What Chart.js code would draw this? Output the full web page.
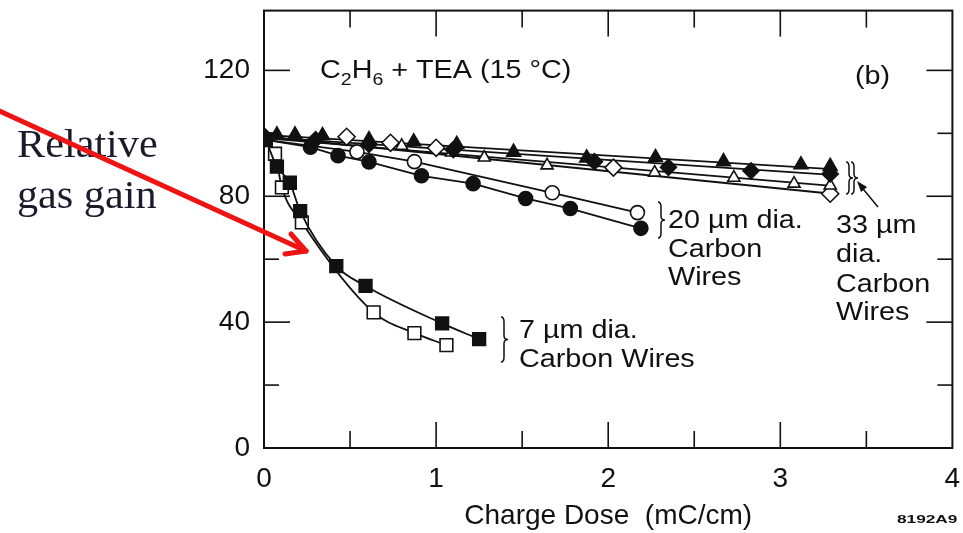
<!DOCTYPE html>
<html><head><meta charset="utf-8">
<script src="https://cdn.jsdelivr.net/npm/chart.js@4/dist/chart.umd.min.js"></script>
<style>html,body{margin:0;padding:0;background:#fff;}#wrap{width:963px;height:533px;}</style>
</head><body><div id="wrap"><canvas id="c" width="963" height="533"></canvas></div>
<script>
// ---- axis ticks ----
const doseTicks = [0, 1, 2, 3, 4];
const doseMinorTicks = [0.5, 1, 1.5, 2, 2.5, 3, 3.5];
const gainTicks = [0, 40, 80, 120];
const gainMinorTicks = [20, 40, 60, 80, 100, 120];

// ---- 7 um carbon wires ----
const sq7FilledX = [0.01, 0.075, 0.15, 0.21, 0.42, 0.59, 1.035, 1.25];
const sq7FilledY = [98, 89.4, 84.3, 75.3, 57.8, 51.5, 39.6, 34.6];
const sq7OpenX = [0.01, 0.064, 0.104, 0.22, 0.637, 0.874, 1.06];
const sq7OpenY = [98, 93.5, 82.8, 71.7, 43.1, 36.5, 32.7];

// ---- 20 um carbon wires ----
const circ20FilledX = [0, 0.27, 0.43, 0.61, 0.915, 1.215, 1.52, 1.78, 2.19];
const circ20FilledY = [98, 95.6, 92.9, 90.9, 86.5, 84, 79.3, 76.1, 69.8];
const circ20OpenX = [0, 0.54, 0.874, 1.675, 2.17];
const circ20OpenY = [98, 94.1, 91, 81.1, 74.8];

// ---- 33 um carbon wires ----
const tri33FilledX = [0, 0.075, 0.18, 0.34, 0.61, 0.87, 1.12, 1.45, 1.875, 2.275, 2.67, 3.12, 3.29];
const tri33FilledY = [99, 99.5, 99.5, 99.3, 98, 97.3, 96.5, 94, 92.2, 92.3, 91, 90, 89.5];
const dia33FilledX = [0, 0.3, 0.61, 1.1, 1.92, 2.35, 2.83, 3.29];
const dia33FilledY = [99, 98, 96.5, 94.8, 91, 89.2, 88.1, 87.1];
const tri33OpenX = [0, 0.8, 1.09, 1.28, 1.645, 2.27, 2.73, 3.08, 3.29];
const tri33OpenY = [99, 96, 93.9, 92.3, 89.8, 87.5, 85.9, 84, 83.4];
const dia33OpenX = [0, 0.48, 0.735, 1.0, 2.03, 3.29];
const dia33OpenY = [99, 98.9, 97, 95.4, 89.1, 80.8];

// ---- 33 um fitted lines ----
const fit33X = [0, 3.3];
const fitTriFilledY = [99.5, 88.6];
const fitDiaFilledY = [98.8, 86.8];
const fitTriOpenY = [98.5, 83.3];
const fitDiaOpenY = [99, 80.8];

const pts = (xs, ys) => xs.map((x, i) => ({x, y: ys[i]}));
const INK = '#111';

function markers(xs, ys, style, filled, r, withLine, tension) {
  return {
    data: pts(xs, ys),
    showLine: withLine,
    borderColor: INK,
    borderWidth: 1.8,
    tension: tension || 0,
    cubicInterpolationMode: tension ? 'monotone' : 'default',
    pointStyle: style,
    pointRadius: r,
    pointBackgroundColor: filled ? INK : '#fff',
    pointBorderColor: INK,
    pointBorderWidth: 1.6,
    fill: false
  };
}
function fitLine(xs, ys) {
  return {data: pts(xs, ys), showLine: true, borderColor: INK, borderWidth: 1.8, pointRadius: 0, tension: 0, fill: false};
}

const datasets = [
  markers(sq7FilledX, sq7FilledY, 'rect', true, 9, true, 0.4),
  markers(sq7OpenX, sq7OpenY, 'rect', false, 9, true, 0.4),
  markers(circ20FilledX, circ20FilledY, 'circle', true, 7, true, 0),
  markers(circ20OpenX, circ20OpenY, 'circle', false, 7, true, 0),
  markers(tri33FilledX, tri33FilledY, 'triangle', true, 8, false, 0),
  markers(dia33FilledX, dia33FilledY, 'rectRot', true, 8, false, 0),
  markers(tri33OpenX, tri33OpenY, 'triangle', false, 7, false, 0),
  markers(dia33OpenX, dia33OpenY, 'rectRot', false, 8.5, false, 0),
  fitLine(fit33X, fitTriFilledY),
  fitLine(fit33X, fitDiaFilledY),
  fitLine(fit33X, fitTriOpenY),
  fitLine(fit33X, fitDiaOpenY)
];

const SANS = '"Liberation Sans", Arial, Helvetica, sans-serif';
function txt(ctx, s, x, y, size, sx, opts) {
  opts = opts || {};
  ctx.save();
  ctx.translate(x, y);
  ctx.scale(sx || 1, 1);
  ctx.font = (opts.weight || 'normal') + ' ' + size + 'px ' + (opts.family || SANS);
  ctx.fillStyle = opts.color || INK;
  ctx.textAlign = 'left';
  ctx.textBaseline = 'alphabetic';
  ctx.fillText(s, 0, 0);
  const w = ctx.measureText(s).width * (sx || 1);
  ctx.restore();
  return w;
}
function brace(ctx, x, y0, y1, dir) {
  const m = (y0 + y1) / 2, d = dir || 1;
  ctx.beginPath();
  ctx.moveTo(x - 3 * d, y0);
  ctx.quadraticCurveTo(x, y0, x, y0 + 5);
  ctx.lineTo(x, m - 4);
  ctx.quadraticCurveTo(x, m, x + 4 * d, m);
  ctx.quadraticCurveTo(x, m, x, m + 4);
  ctx.lineTo(x, y1 - 5);
  ctx.quadraticCurveTo(x, y1, x - 3 * d, y1);
  ctx.stroke();
}

const frame = {
  id: 'frame',
  afterDraw(chart) {
    const {ctx, chartArea: a, scales: {x, y}} = chart;
    ctx.save();
    ctx.strokeStyle = INK;
    ctx.lineWidth = 2;
    ctx.strokeRect(a.left, a.top, a.right - a.left, a.bottom - a.top);
    ctx.lineWidth = 1.6;
    const seg = (x1, y1, x2, y2) => { ctx.beginPath(); ctx.moveTo(x1, y1); ctx.lineTo(x2, y2); ctx.stroke(); };
    doseMinorTicks.forEach(v => {
      const px = x.getPixelForValue(v);
      const L = doseTicks.includes(v) ? 26 : 17;
      seg(px, a.bottom, px, a.bottom - L);
      seg(px, a.top, px, a.top + L);
    });
    gainMinorTicks.forEach(v => {
      const py = y.getPixelForValue(v);
      const L = gainTicks.includes(v) ? 26 : 15;
      seg(a.left, py, a.left + L, py);
      seg(a.right, py, a.right - L, py);
    });

    // annotations
    const S = 1.15;
    let cx = 320;
    cx += txt(ctx, 'C', cx, 78, 25, S);
    cx += txt(ctx, '2', cx, 85, 17, S);
    cx += txt(ctx, 'H', cx, 78, 25, S);
    cx += txt(ctx, '6', cx, 85, 17, S);
    txt(ctx, ' + TEA (15 °C)', cx, 78, 25, S);
    txt(ctx, '(b)', 855, 84, 25, S);

    txt(ctx, '20 µm dia.', 668, 228, 25, S);
    txt(ctx, 'Carbon', 668, 257, 25, S);
    txt(ctx, 'Wires', 668, 285, 25, S);

    txt(ctx, '33 µm', 836, 233, 25, S);
    txt(ctx, 'dia.', 836, 262, 25, S);
    txt(ctx, 'Carbon', 836, 292, 25, S);
    txt(ctx, 'Wires', 836, 320, 25, S);

    txt(ctx, '7 µm dia.', 519, 338, 25, S);
    txt(ctx, 'Carbon Wires', 519, 367, 25, S);

    ctx.lineWidth = 1.5;
    ctx.strokeStyle = INK;
    brace(ctx, 661, 202, 238, 1);
    brace(ctx, 504, 317, 362, 1);
    brace(ctx, 849, 162, 194, 1);
    brace(ctx, 854, 162, 194, 1);

    // small arrow to 33 um lines
    seg(878, 207, 859, 184);
    ctx.beginPath();
    ctx.moveTo(857, 181); ctx.lineTo(867, 187); ctx.lineTo(861, 192); ctx.closePath();
    ctx.fillStyle = INK; ctx.fill();

    txt(ctx, '8192A9', 897, 523, 11.5, 1.5, {weight: 'bold'});

    // left label
    const SERIF = '"Liberation Serif", "Times New Roman", serif';
    txt(ctx, 'Relative', 17, 157, 41, 1.03, {family: SERIF, color: '#1b1b2b'});
    txt(ctx, 'gas gain', 17, 208, 41, 1.03, {family: SERIF, color: '#1b1b2b'});

    // red arrow
    ctx.strokeStyle = '#ee1414';
    ctx.lineWidth = 5;
    ctx.lineCap = 'round';
    seg(-5, 109, 306, 251);
    seg(306, 251, 291, 234);
    seg(306, 251, 285, 254);
    ctx.restore();
  }
};

const noPad = s => { s.paddingTop = 0; s.paddingBottom = 0; s.paddingLeft = 0; s.paddingRight = 0; };

new Chart(document.getElementById('c'), {
  type: 'scatter',
  data: {datasets},
  plugins: [frame],
  options: {
    responsive: false,
    animation: false,
    devicePixelRatio: 1,
    layout: {padding: {left: 0, right: 3, top: 9, bottom: 0}},
    plugins: {legend: {display: false}, tooltip: {enabled: false}},
    scales: {
      x: {
        type: 'linear', min: 0, max: 4,
        grid: {display: false, drawTicks: false},
        border: {display: false},
        afterBuildTicks: s => { s.ticks = doseTicks.map(v => ({value: v})); },
        afterFit: s => { s.height = 85; noPad(s); },
        ticks: {padding: 14, color: INK, font: {size: 28, family: SANS}, callback: v => String(v)},
        title: {display: true, text: 'Charge Dose  (mC/cm)', color: INK, font: {size: 28, family: SANS}, padding: {top: 0, bottom: 0}}
      },
      y: {
        type: 'linear', min: 0, max: 139,
        grid: {display: false, drawTicks: false},
        border: {display: false},
        afterBuildTicks: s => { s.ticks = gainTicks.map(v => ({value: v})); },
        afterFit: s => { s.width = 264; noPad(s); },
        ticks: {padding: 14, color: INK, font: {size: 28, family: SANS}, callback: v => String(v)}
      }
    }
  }
});
</script>
</body></html>
